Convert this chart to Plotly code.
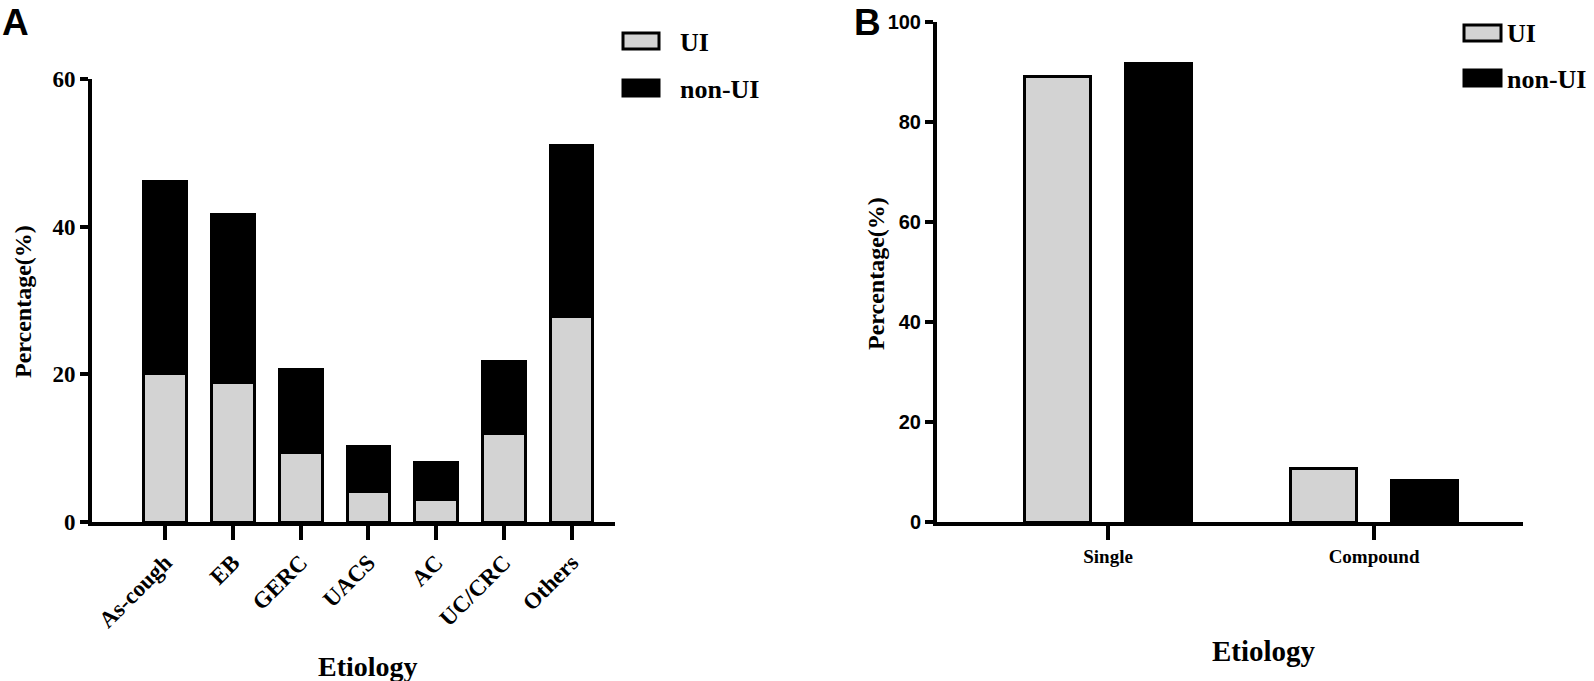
import plotly.graph_objects as go

# ---- data ----
etiologies_a = ["As-cough", "EB", "GERC", "UACS", "AC", "UC/CRC", "Others"]
ui_a = [20.1, 18.9, 9.4, 4.1, 3.1, 12.0, 27.9]
non_ui_a = [26.0, 22.8, 11.3, 6.1, 4.9, 9.7, 23.1]   # stacked on top of UI

etiologies_b = ["Single", "Compound"]
ui_b = [89.2, 10.8]
non_ui_b = [91.7, 8.3]

series_names = ["UI", "non-UI"]
yticks_a = [0, 20, 40, 60]
yticks_b = [0, 20, 40, 60, 80, 100]

# ---- style ----
W, H = 1594, 681
GRAY = "#d3d3d3"
SERIF = "Liberation Serif, Times New Roman, serif"
SANS = "Liberation Sans, Arial, sans-serif"

def px_x(p):
    return p / W

def px_y(p):
    return 1 - p / H

fig = go.Figure()

# Panel A: stacked bars
fig.add_trace(go.Bar(x=list(range(len(etiologies_a))), y=ui_a, name=series_names[0],
                     marker=dict(color=GRAY, line=dict(color="black", width=3)),
                     width=0.63, xaxis="x", yaxis="y", showlegend=False))
fig.add_trace(go.Bar(x=list(range(len(etiologies_a))), y=non_ui_a, name=series_names[1],
                     marker=dict(color="black", line=dict(color="black", width=3)),
                     width=0.63, xaxis="x", yaxis="y", showlegend=False))

# Panel B: grouped bars (explicit offsets, base 0 so they are not stacked)
bw = 0.245
fig.add_trace(go.Bar(x=list(range(len(etiologies_b))), y=ui_b, name=series_names[0],
                     base=[0] * len(ui_b),
                     marker=dict(color=GRAY, line=dict(color="black", width=3)),
                     width=bw, offset=-0.19 - bw / 2, xaxis="x2", yaxis="y2", showlegend=False))
fig.add_trace(go.Bar(x=list(range(len(etiologies_b))), y=non_ui_b, name=series_names[1],
                     base=[0] * len(non_ui_b),
                     marker=dict(color="black", line=dict(color="black", width=3)),
                     width=bw, offset=0.19 - bw / 2, xaxis="x2", yaxis="y2", showlegend=False))

axis_common = dict(showline=True, linewidth=4, linecolor="black", showgrid=False,
                   zeroline=False, ticks="outside", tickwidth=4, tickcolor="black",
                   automargin=False)

fig.update_layout(
    width=W, height=H, margin=dict(l=0, r=0, t=0, b=0, autoexpand=False),
    paper_bgcolor="white", plot_bgcolor="white",
    barmode="stack",
    xaxis=dict(domain=[px_x(92), px_x(615)], range=[-1.08, 6.64], anchor="y",
               tickvals=list(range(len(etiologies_a))), ticktext=etiologies_a,
               tickangle=-45, ticklen=14,
               tickfont=dict(family=SERIF, size=23, color="black", weight="bold"),
               **axis_common),
    yaxis=dict(domain=[px_y(522), px_y(79)], range=[0, 60], anchor="x",
               tickvals=yticks_a, ticklen=8,
               tickfont=dict(family=SERIF, size=23, color="black", weight="bold"),
               **axis_common),
    xaxis2=dict(domain=[px_x(937), px_x(1523)], range=[-0.643, 1.56], anchor="y2",
                tickvals=list(range(len(etiologies_b))), ticktext=etiologies_b,
                ticklen=14,
                tickfont=dict(family=SERIF, size=19, color="black", weight="bold"),
                **axis_common),
    yaxis2=dict(domain=[px_y(522), px_y(22)], range=[0, 100], anchor="x2",
                tickvals=yticks_b, ticklen=8,
                tickfont=dict(family=SANS, size=20, color="black", weight="bold"),
                **axis_common),
)

ann = []
ann.append(dict(text="Etiology", x=px_x(368), y=px_y(666), xref="paper", yref="paper",
                xanchor="center", yanchor="middle", showarrow=False,
                font=dict(family=SERIF, size=28, color="black", weight="bold")))
ann.append(dict(text="Percentage(%)", x=px_x(23), y=px_y(302), xref="paper", yref="paper",
                xanchor="center", yanchor="middle", showarrow=False, textangle=-90,
                font=dict(family=SERIF, size=24, color="black", weight="bold")))
ann.append(dict(text="Etiology", x=px_x(1264), y=px_y(651), xref="paper", yref="paper",
                xanchor="center", yanchor="middle", showarrow=False,
                font=dict(family=SERIF, size=29, color="black", weight="bold")))
ann.append(dict(text="Percentage(%)", x=px_x(876), y=px_y(274), xref="paper", yref="paper",
                xanchor="center", yanchor="middle", showarrow=False, textangle=-90,
                font=dict(family=SERIF, size=24, color="black", weight="bold")))
# panel letters
ann.append(dict(text="A", x=px_x(0), y=px_y(0), xref="paper", yref="paper", xanchor="left",
                yanchor="top", showarrow=False,
                font=dict(family=SANS, size=37, color="black", weight="bold")))
ann.append(dict(text="B", x=px_x(852), y=px_y(0), xref="paper", yref="paper", xanchor="left",
                yanchor="top", showarrow=False,
                font=dict(family=SANS, size=37, color="black", weight="bold")))

# manual legends
shapes = []
legend_specs = [
    (623, 659, [(33, 49), (80, 96)], 678),
    (1464, 1501, [(25, 41), (70, 86)], 1505),
]
fills = [GRAY, "black"]
for x0, x1, rows, tx in legend_specs:
    for (y0, y1), name, fill in zip(rows, series_names, fills):
        shapes.append(dict(type="rect", xref="paper", yref="paper",
                           x0=px_x(x0), x1=px_x(x1), y0=px_y(y1), y1=px_y(y0),
                           fillcolor=fill, line=dict(color="black", width=3)))
        ann.append(dict(text=name, x=px_x(tx), y=px_y((y0 + y1) / 2 + 1), xref="paper", yref="paper",
                        xanchor="left", yanchor="middle", showarrow=False,
                        font=dict(family=SERIF, size=26, color="black", weight="bold")))

fig.update_layout(annotations=ann, shapes=shapes)
fig.write_html("out.html", config={"displayModeBar": False},
               post_script="document.body.style.margin='0';")
